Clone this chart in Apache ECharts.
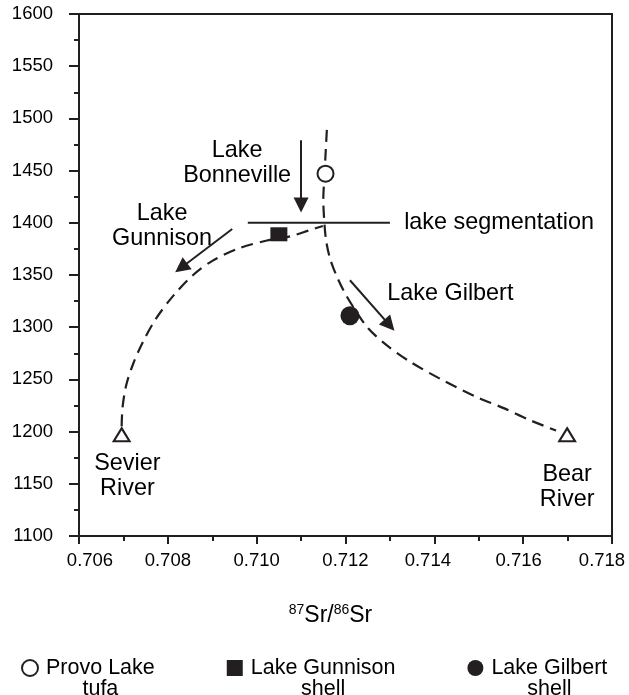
<!DOCTYPE html>
<html><head><meta charset="utf-8">
<script src="https://cdn.jsdelivr.net/npm/echarts@6/dist/echarts.min.js"></script>
<style>html,body{margin:0;padding:0;background:#fff}#c{width:629px;height:695px}</style>
</head><body><div id="c"></div>
<script>
const INK = '#231f20';
const TXT = '#000';
const FONT = '"Liberation Sans", Arial, Helvetica, sans-serif';

// ---- data (87Sr/86Sr vs elevation) ----
const xTickValues = [0.706, 0.708, 0.710, 0.712, 0.714, 0.716, 0.718];
const yTickValues = [1100, 1150, 1200, 1250, 1300, 1350, 1400, 1450, 1500, 1550, 1600];

// dashed mixing path: Lake Gunnison -> Sevier River
const curveAX = [0.70696, 0.70698, 0.70706, 0.70722, 0.70744, 0.70773, 0.70812, 0.70857, 0.70902, 0.70963, 0.71023, 0.71075, 0.71120, 0.71149];
const curveAY = [1205, 1223, 1244, 1265, 1286, 1308, 1330, 1350, 1364, 1376, 1383, 1387, 1393, 1397];
// dashed mixing path: Lake Bonneville -> Lake Gilbert -> Bear River
const curveBX = [0.71158, 0.71155, 0.71152, 0.71150, 0.71152, 0.71156, 0.71165, 0.71179, 0.71197, 0.71221, 0.71251, 0.71289, 0.71345, 0.71420, 0.71496, 0.71559, 0.71615, 0.71674];
const curveBY = [1489, 1465, 1441, 1422, 1403, 1384, 1366, 1350, 1334, 1317, 1299, 1284, 1267, 1249, 1233, 1222, 1211, 1201];

// lake segmentation level
const segX = [0.7098, 0.7130];
const segY = [1400, 1400];

// samples
const provoX = [0.71155], provoY = [1447];
const gunnisonX = [0.7105], gunnisonY = [1389];
const gilbertX = [0.7121], gilbertY = [1311];
const riverX = [0.70696, 0.71699], riverY = [1197, 1197];

// arrows (start -> end)
const arrowFromX = [0.7110, 0.70945, 0.71210];
const arrowFromY = [1479, 1394, 1345];
const arrowToX = [0.7110, 0.70830, 0.71299];
const arrowToY = [1417, 1357, 1302];

// annotations
const noteText = ['Lake\nBonneville', 'Lake\nGunnison', 'Lake Gilbert', 'lake segmentation', 'Sevier\nRiver', 'Bear\nRiver'];
const noteX = [0.70956, 0.70787, 0.71436, 0.71332, 0.70709, 0.71699];
const noteY = [1457, 1397, 1332.5, 1400.5, 1157.5, 1147];

// legend
const legendNames = ['Provo Lake tufa', 'Lake Gunnison shell', 'Lake Gilbert shell'];
const legendLine1 = ['Provo Lake', 'Lake Gunnison', 'Lake Gilbert'];
const legendLine2 = ['tufa', 'shell', 'shell'];

const zip = (xs, ys) => xs.map((x, i) => [x, ys[i]]);

// small per-label horizontal nudges of x tick labels
const xLabelPad = { '0.706': [0, 0, 0, 22], '0.714': [0, 13, 0, 0], '0.716': [0, 9, 0, 0], '0.718': [0, 20, 0, 0] };
const xRich = {};
xTickValues.forEach(v => {
  const s = v.toFixed(3);
  xRich['k' + s.slice(2)] = { fontSize: 18.5, fontFamily: FONT, color: TXT, padding: xLabelPad[s] || [0, 0, 0, 0] };
});

const chart = echarts.init(document.getElementById('c'), null, { renderer: 'canvas' });

const legendIcons = ['circle', 'path://M0 0h10v10h-10z', 'circle'];

const option = {
  animation: false,
  backgroundColor: '#fff',
  grid: { left: 79, right: 17, top: 14, bottom: 159, show: true, borderColor: INK, borderWidth: 2, containLabel: false },
  xAxis: {
    type: 'value', min: 0.706, max: 0.718, interval: 0.002,
    axisLine: { show: true, lineStyle: { color: INK, width: 2 } },
    axisTick: { show: true, inside: false, length: 8, lineStyle: { color: INK, width: 2 } },
    minorTick: { show: true, splitNumber: 2, length: 5, lineStyle: { color: INK, width: 2 } },
    splitLine: { show: false },
    axisLabel: {
      margin: 15, fontSize: 18.5, fontFamily: FONT, color: TXT,
      formatter: v => { const s = v.toFixed(3); return '{k' + s.slice(2) + '|' + s + '}'; },
      rich: xRich
    },
    name: '{s|87}{n|Sr/}{s|86}{n|Sr}',
    nameLocation: 'middle', nameGap: 67,
    nameTextStyle: {
      padding: [0, 30, 0, 0],
      rich: {
        n: { fontSize: 23, fontFamily: FONT, color: TXT, lineHeight: 26 },
        s: { fontSize: 14, fontFamily: FONT, color: TXT, lineHeight: 16, verticalAlign: 'top' }
      }
    }
  },
  yAxis: {
    type: 'value', min: 1100, max: 1600, interval: 50,
    axisLine: { show: true, lineStyle: { color: INK, width: 2 } },
    axisTick: { show: true, inside: false, length: 10, lineStyle: { color: INK, width: 2 } },
    minorTick: { show: true, splitNumber: 2, length: 5, lineStyle: { color: INK, width: 2 } },
    splitLine: { show: false },
    axisLabel: { margin: 26, fontSize: 18.5, fontFamily: FONT, color: TXT, formatter: v => String(v) }
  },
  legend: {
    data: legendNames.map((n, i) => {
      const st = i === 0 ? { color: '#fff', borderColor: INK, borderWidth: 2 } : { color: INK, borderWidth: 0 };
      return { name: n, icon: legendIcons[i], itemStyle: st };
    }),
    symbolKeepAspect: true,
    left: 21, top: 636, padding: 0, itemGap: 72, itemWidth: 22, itemHeight: 16,
    selectedMode: false,
    formatter: name => {
      const i = legendNames.indexOf(name);
      return '{h| }\n{a|' + legendLine1[i] + '}\n{b|' + legendLine2[i] + '}';
    },
    textStyle: {
      color: TXT, fontFamily: FONT, fontSize: 21.5,
      rich: {
        h: { fontSize: 21.5, lineHeight: 21, fontFamily: FONT },
        a: { fontSize: 21.5, lineHeight: 21, fontFamily: FONT, color: TXT },
        b: { fontSize: 21.5, lineHeight: 21, fontFamily: FONT, color: TXT, align: 'center' }
      }
    }
  },
  series: [
    {
      name: 'path A', type: 'line', data: zip(curveAX, curveAY), smooth: 0.3, showSymbol: false, symbol: 'none',
      lineStyle: { color: INK, width: 2.2, type: [12, 7] }, silent: true, z: 2
    },
    {
      name: 'path B', type: 'line', data: zip(curveBX, curveBY), smooth: 0.3, showSymbol: false, symbol: 'none',
      lineStyle: { color: INK, width: 2.2, type: [12, 7] }, silent: true, z: 2
    },
    {
      name: 'segmentation', type: 'line', data: zip(segX, segY), showSymbol: false, symbol: 'none',
      lineStyle: { color: INK, width: 2, type: 'solid' }, silent: true, z: 2
    },
    {
      name: 'arrows', type: 'lines', coordinateSystem: 'cartesian2d', silent: true, z: 3,
      symbol: ['none', 'triangle'], symbolSize: [11, 15],
      lineStyle: { color: INK, width: 2, opacity: 1, curveness: 0 },
      data: arrowFromX.map((x, i) => ({ coords: [[x, arrowFromY[i]], [arrowToX[i], arrowToY[i]]] }))
    },
    {
      name: legendNames[0], type: 'scatter', data: zip(provoX, provoY), symbol: 'circle', symbolSize: 16,
      itemStyle: { color: '#fff', borderColor: INK, borderWidth: 2, opacity: 1 }, z: 4, silent: true
    },
    {
      name: legendNames[1], type: 'scatter', data: zip(gunnisonX, gunnisonY), symbol: 'rect', symbolSize: [17, 14],
      itemStyle: { color: INK, opacity: 1 }, z: 4, silent: true
    },
    {
      name: legendNames[2], type: 'scatter', data: zip(gilbertX, gilbertY), symbol: 'circle', symbolSize: 19,
      itemStyle: { color: INK, opacity: 1 }, z: 4, silent: true
    },
    {
      name: 'rivers', type: 'scatter', data: zip(riverX, riverY), symbol: 'triangle', symbolSize: [16, 13],
      itemStyle: { color: '#fff', borderColor: INK, borderWidth: 2, opacity: 1 }, z: 4, silent: true
    },
    {
      name: 'notes', type: 'scatter', silent: true, z: 5, symbolSize: 1,
      itemStyle: { color: 'rgba(0,0,0,0)' },
      data: noteText.map((t, i) => ({
        value: [noteX[i], noteY[i]],
        label: {
          show: true, position: 'inside', formatter: t,
          align: t === 'lake segmentation' ? 'left' : 'center', verticalAlign: 'middle',
          fontSize: 23.4, lineHeight: 24.5, fontFamily: FONT, color: TXT, opacity: 1
        }
      }))
    }
  ]
};
chart.setOption(option);
</script>
</body></html>
